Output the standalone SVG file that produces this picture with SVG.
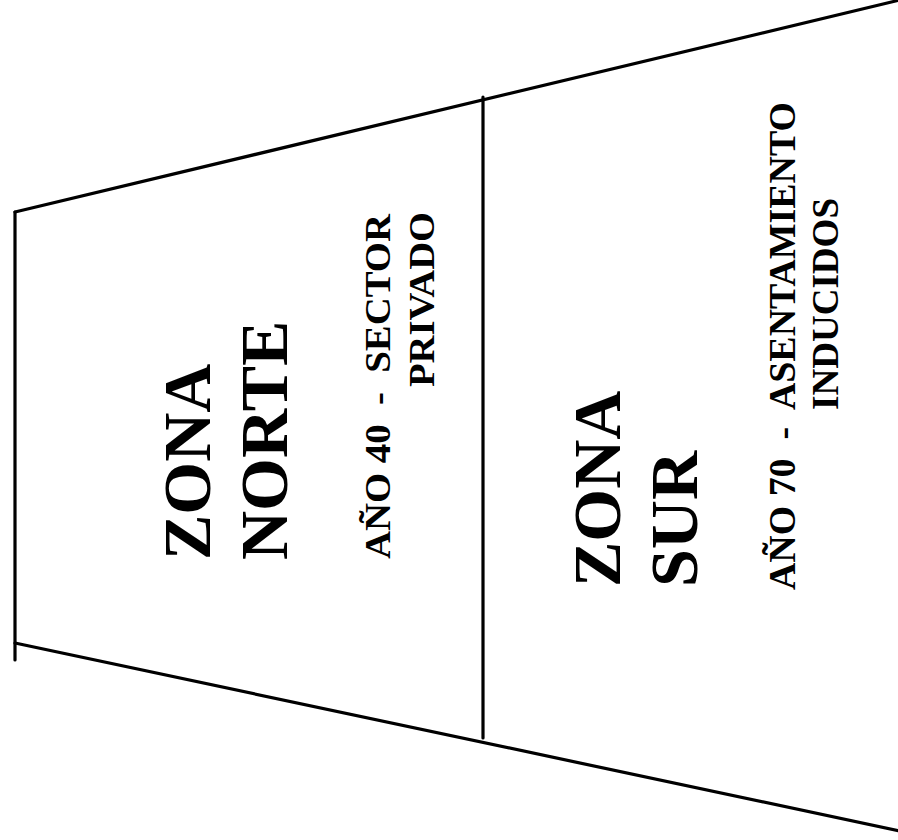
<svg xmlns="http://www.w3.org/2000/svg" width="898" height="840" viewBox="0 0 898 840">
<style>
.ln{stroke:#000;stroke-width:3.2;fill:none;stroke-linecap:round}
.big{font-family:"Liberation Serif","Times New Roman",serif;font-weight:bold;font-size:68px;fill:#000}
.sm{font-family:"Liberation Serif","Times New Roman",serif;font-weight:bold;fill:#000}
</style>
<rect width="898" height="840" fill="#fff"/>
<g id="connectors">
<line class="ln" x1="15" y1="212" x2="15" y2="660"/>
<line class="ln" x1="15" y1="212" x2="900" y2="0"/>
<line class="ln" x1="15" y1="643" x2="900" y2="831"/>
<line class="ln" x1="483" y1="97" x2="483" y2="738"/>
</g>
<g id="zona-norte">
<text class="big" transform="translate(210,560) rotate(-90)">ZONA</text>
<text class="big" transform="translate(287,560) rotate(-90)">NORTE</text>
<text class="sm" font-size="35" transform="translate(390,559) rotate(-90)" textLength="345" lengthAdjust="spacingAndGlyphs">AÑO 40&#160; -&#160; SECTOR</text>
<text class="sm" font-size="35" transform="translate(434,387) rotate(-90)" textLength="175" lengthAdjust="spacingAndGlyphs">PRIVADO</text>
</g>
<g id="zona-sur">
<text class="big" transform="translate(620,587) rotate(-90)">ZONA</text>
<text class="big" transform="translate(697,587) rotate(-90)">SUR</text>
<text class="sm" font-size="38" transform="translate(795,590) rotate(-90)" textLength="488" lengthAdjust="spacingAndGlyphs">AÑO 70&#160; -&#160; ASENTAMIENTO</text>
<text class="sm" font-size="38" transform="translate(838,410) rotate(-90)" textLength="212" lengthAdjust="spacingAndGlyphs">INDUCIDOS</text>
</g>
</svg>
